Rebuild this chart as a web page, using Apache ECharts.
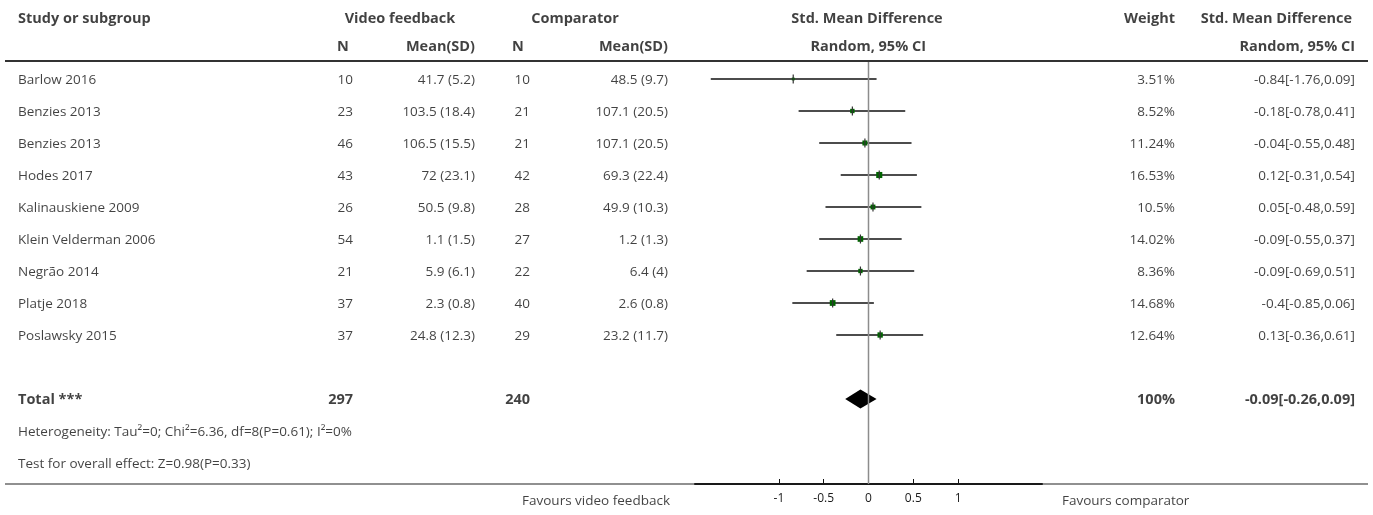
<!DOCTYPE html>
<html><head><meta charset="utf-8">
<script src="https://cdn.jsdelivr.net/npm/echarts@6/dist/echarts.min.js"></script>
<style>html,body{margin:0;padding:0;background:#fff}#c{width:1373px;height:515px}</style>
</head><body><div id="c"></div>
<script>
// ---------- data ----------
const studies = ['Barlow 2016','Benzies 2013','Benzies 2013','Hodes 2017','Kalinauskiene 2009','Klein Velderman 2006','Negrão 2014','Platje 2018','Poslawsky 2015'];
const nVideo = [10,23,46,43,26,54,21,37,37];
const meanVideo = [41.7,103.5,106.5,72,50.5,1.1,5.9,2.3,24.8];
const sdVideo = [5.2,18.4,15.5,23.1,9.8,1.5,6.1,0.8,12.3];
const nComp = [10,21,21,42,28,27,22,40,29];
const meanComp = [48.5,107.1,107.1,69.3,49.9,1.2,6.4,2.6,23.2];
const sdComp = [9.7,20.5,20.5,22.4,10.3,1.3,4,0.8,11.7];
const weights = [3.51,8.52,11.24,16.53,10.5,14.02,8.36,14.68,12.64];
const smd = [-0.84,-0.18,-0.04,0.12,0.05,-0.09,-0.09,-0.4,0.13];
const ciLower = [-1.76,-0.78,-0.55,-0.31,-0.48,-0.55,-0.69,-0.85,-0.36];
const ciUpper = [0.09,0.41,0.48,0.54,0.59,0.37,0.51,0.06,0.61];
const totalNVideo = 297;
const totalNComp = 240;
const totalWeight = 100;
const totalSmd = -0.09;
const totalLower = -0.26;
const totalUpper = 0.09;
const heterogeneityText = 'Heterogeneity: Tau²=0; Chi²=6.36, df=8(P=0.61); I²=0%';
const overallText = 'Test for overall effect: Z=0.98(P=0.33)';
const tickValues = [-1,-0.5,0,0.5,1];
const favoursLeft = 'Favours video feedback';
const favoursRight = 'Favours comparator';

// ---------- layout ----------
const W = 1373, H = 515;
const FONT = 'Open Sans';
const FS = 13.5, FSB = 14.5;
const ROW0 = 79, ROWH = 32;          // pixel of first row, row height
const rowOf = px => (px - ROW0) / ROWH;
const yMinRow = rowOf(0), yMaxRow = rowOf(H);
const axisPx = 484;
const plotLeft = 695, plotWidth = 347;
const maxAbs = Math.max(...ciLower.map(Math.abs), ...ciUpper.map(Math.abs)) * 1.1;
const col = {
  study: 18, nV: 353, nVh: 343, mV: 475, vfh: 400,
  nC: 530, nCh: 518, mC: 668, comph: 575,
  smdh: 867, rand1: 926, wt: 1175, ci: 1355, smd2h: 1352
};
const totalRow = studies.length + 1;

const texts = [];
function T(x, row, text, align, bold) {
  texts.push({ value: [x, row], label: { formatter: String(text), align: align,
    fontWeight: bold ? 'bold' : 'normal', fontSize: bold ? FSB : FS } });
}
// header
const h1 = rowOf(18), h2 = rowOf(46);
T(col.study, h1, 'Study or subgroup', 'left', true);
T(col.vfh, h1, 'Video feedback', 'center', true);
T(col.comph, h1, 'Comparator', 'center', true);
T(col.smdh, h1, 'Std. Mean Difference', 'center', true);
T(col.wt, h1, 'Weight', 'right', true);
T(col.smd2h, h1, 'Std. Mean Difference', 'right', true);
T(col.nVh, h2, 'N', 'center', true);
T(col.mV, h2, 'Mean(SD)', 'right', true);
T(col.nCh, h2, 'N', 'center', true);
T(col.mC, h2, 'Mean(SD)', 'right', true);
T(col.rand1, h2, 'Random, 95% CI', 'right', true);
T(col.ci, h2, 'Random, 95% CI', 'right', true);
// studies
studies.forEach((s, i) => {
  T(col.study, i, s, 'left');
  T(col.nV, i, nVideo[i], 'right');
  T(col.mV, i, meanVideo[i] + ' (' + sdVideo[i] + ')', 'right');
  T(col.nC, i, nComp[i], 'right');
  T(col.mC, i, meanComp[i] + ' (' + sdComp[i] + ')', 'right');
  T(col.wt, i, weights[i] + '%', 'right');
  T(col.ci, i, smd[i] + '[' + ciLower[i] + ',' + ciUpper[i] + ']', 'right');
});
// total
T(col.study, totalRow, 'Total ***', 'left', true);
T(col.nV, totalRow, totalNVideo, 'right', true);
T(col.nC, totalRow, totalNComp, 'right', true);
T(col.wt, totalRow, totalWeight + '%', 'right', true);
T(col.ci, totalRow, totalSmd + '[' + totalLower + ',' + totalUpper + ']', 'right', true);
T(col.study, totalRow + 1, heterogeneityText, 'left');
T(col.study, totalRow + 2, overallText, 'left');
T(670, rowOf(500), favoursLeft, 'right');
T(1062, rowOf(500), favoursRight, 'left');

const studyData = studies.map((s, i) => [smd[i], i, ciLower[i], ciUpper[i], weights[i]]);

const chart = echarts.init(document.getElementById('c'), null, { renderer: 'canvas' });
chart.setOption({
  animation: false,
  backgroundColor: '#fff',
  textStyle: { fontFamily: FONT },
  grid: [
    { left: 0, top: 0, width: W, height: H, outerBoundsMode: 'none', containLabel: false },
    { left: plotLeft, top: 0, width: plotWidth, height: axisPx, outerBoundsMode: 'none', containLabel: false }
  ],
  xAxis: [
    { gridIndex: 0, type: 'value', min: 0, max: W, show: false },
    { gridIndex: 1, type: 'value', min: -maxAbs, max: maxAbs, position: 'bottom',
      axisLine: { show: true, onZero: false, lineStyle: { color: '#111', width: 2 } },
      axisTick: { show: true, inside: true, length: 5, customValues: tickValues, lineStyle: { color: '#111', width: 1 } },
      axisLabel: { show: true, customValues: tickValues, fontFamily: FONT, fontSize: 12, color: '#1a1a1a', margin: 9 },
      splitLine: { show: false } }
  ],
  yAxis: [
    { gridIndex: 0, type: 'value', min: yMinRow, max: yMaxRow, inverse: true, show: false },
    { gridIndex: 1, type: 'value', min: yMinRow, max: rowOf(axisPx), inverse: true, show: false }
  ],
  series: [
    { type: 'line', xAxisIndex: 0, yAxisIndex: 0, symbol: 'none', silent: true,
      data: [[5, rowOf(61)], [1368, rowOf(61)]], lineStyle: { color: '#333', width: 2 } },
    { type: 'line', xAxisIndex: 0, yAxisIndex: 0, symbol: 'none', silent: true,
      data: [[5, rowOf(axisPx)], [1368, rowOf(axisPx)]], lineStyle: { color: '#222', width: 1.2 } },
    { type: 'line', xAxisIndex: 1, yAxisIndex: 1, symbol: 'none', silent: true, clip: false,
      data: [[0, rowOf(62)], [0, rowOf(axisPx)]], lineStyle: { color: '#8c8c8c', width: 1.5 } },
    { type: 'custom', xAxisIndex: 1, yAxisIndex: 1, silent: true, clip: false,
      data: studyData,
      renderItem: function (params, api) {
        const p = api.coord([api.value(0), api.value(1)]);
        const l = api.coord([api.value(2), api.value(1)]);
        const u = api.coord([api.value(3), api.value(1)]);
        const s = Math.sqrt(api.value(4)) * 1.5;
        return { type: 'group', children: [
          { type: 'line', shape: { x1: l[0], y1: p[1], x2: u[0], y2: p[1] }, style: { stroke: '#111', lineWidth: 1.5 } },
          { type: 'rect', shape: { x: p[0] - s / 2, y: p[1] - s / 2, width: s, height: s }, style: { fill: '#006400' } },
          { type: 'line', shape: { x1: p[0], y1: p[1] - 4.5, x2: p[0], y2: p[1] + 4.5 }, style: { stroke: '#333', lineWidth: 1.2 } }
        ] };
      } },
    { type: 'custom', xAxisIndex: 1, yAxisIndex: 1, silent: true, clip: false,
      data: [[totalSmd, totalRow, totalLower, totalUpper]],
      renderItem: function (params, api) {
        const p = api.coord([api.value(0), api.value(1)]);
        const l = api.coord([api.value(2), api.value(1)]);
        const u = api.coord([api.value(3), api.value(1)]);
        return { type: 'polygon', shape: { points: [[l[0], p[1]], [p[0], p[1] - 9.5], [u[0], p[1]], [p[0], p[1] + 9.5]] },
          style: { fill: '#000' } };
      } },
    { type: 'scatter', xAxisIndex: 0, yAxisIndex: 0, symbolSize: 0, silent: true, clip: false,
      label: { show: true, position: 'inside', verticalAlign: 'middle', color: '#111', fontFamily: FONT, fontSize: FS, offset: [0, 1] },
      data: texts }
  ]
});
</script></body></html>
